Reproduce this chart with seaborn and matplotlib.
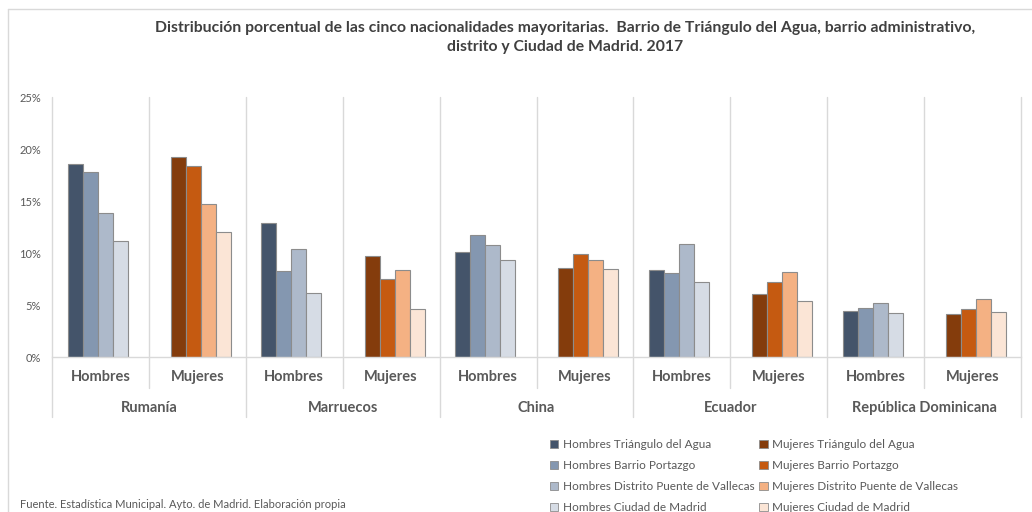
import pandas as pd
import matplotlib.pyplot as plt
import seaborn as sns
from matplotlib.patches import Patch
from matplotlib.lines import Line2D
from matplotlib.ticker import PercentFormatter
import matplotlib.transforms as mtransforms

# --- data (percent) ---
paises = ['Rumanía', 'Marruecos', 'China', 'Ecuador', 'República Dominicana']
ambitos = ['Triángulo del Agua', 'Barrio Portazgo', 'Distrito Puente de Vallecas', 'Ciudad de Madrid']

hombres_triangulo = [18.6, 12.9, 10.1, 8.4, 4.4]
hombres_portazgo = [17.8, 8.3, 11.7, 8.05, 4.7]
hombres_distrito = [13.8, 10.4, 10.75, 10.85, 5.2]
hombres_madrid = [11.2, 6.2, 9.35, 7.25, 4.25]

mujeres_triangulo = [19.2, 9.75, 8.6, 6.05, 4.1]
mujeres_portazgo = [18.4, 7.5, 9.9, 7.25, 4.6]
mujeres_distrito = [14.7, 8.35, 9.35, 8.2, 5.6]
mujeres_madrid = [12.0, 4.6, 8.5, 5.35, 4.35]

colores_h = ['#44546A', '#8497B0', '#ADB9CA', '#D6DCE5']
colores_m = ['#843C0C', '#C55A11', '#F4B183', '#FBE5D6']

# --- build long table ---
filas = []
series_h = [hombres_triangulo, hombres_portazgo, hombres_distrito, hombres_madrid]
series_m = [mujeres_triangulo, mujeres_portazgo, mujeres_distrito, mujeres_madrid]
for i, p in enumerate(paises):
    for amb, vals in zip(ambitos, series_h):
        filas.append({'slot': p + ' H', 'sexo': 'Hombres', 'ambito': amb, 'valor': vals[i] / 100})
    for amb, vals in zip(ambitos, series_m):
        filas.append({'slot': p + ' M', 'sexo': 'Mujeres', 'ambito': amb, 'valor': vals[i] / 100})
df = pd.DataFrame(filas)
orden = [p + s for p in paises for s in (' H', ' M')]

sns.set_style('white')
plt.rcParams['font.family'] = ['Lato', 'DejaVu Sans']
gris = '#595959'

fig = plt.figure(figsize=(10.32, 5.12), dpi=100)
ax = fig.add_axes([52 / 1032, 1 - 357 / 512, (1021 - 52) / 1032, 260 / 512])

sns.barplot(data=df[df.sexo == 'Hombres'], x='slot', y='valor', hue='ambito',
            order=orden, hue_order=ambitos, palette=colores_h, width=0.62, saturation=1,
            edgecolor='#8C8C8C', linewidth=0.8, legend=False, ax=ax)
n_h = len(ax.patches)
# small offset like the original (hombres a bit left)
for b in ax.patches:
    b.set_x(b.get_x() - 0.03)
sns.barplot(data=df[df.sexo == 'Mujeres'], x='slot', y='valor', hue='ambito',
            order=orden, hue_order=ambitos, palette=colores_m, width=0.62, saturation=1,
            edgecolor='#8C8C8C', linewidth=0.8, legend=False, ax=ax)
for b in ax.patches[n_h:]:
    b.set_x(b.get_x() + 0.035)

ax.set_xlim(-0.5, len(orden) - 0.5)
ax.set_ylim(0, 0.25)
ax.yaxis.set_major_formatter(PercentFormatter(1.0, decimals=0))
ax.set_yticks([0, 0.05, 0.10, 0.15, 0.20, 0.25])
ax.tick_params(axis='y', length=0, pad=8, labelsize=8, labelcolor=gris)
ax.set_xticks([])
ax.set_xlabel('')
ax.set_ylabel('')
for s in ['top', 'right', 'left']:
    ax.spines[s].set_visible(False)
ax.spines['bottom'].set_color('#D9D9D9')
ax.spines['bottom'].set_linewidth(1)

# category separators and two-level labels
trans = mtransforms.blended_transform_factory(ax.transData, ax.transAxes)
for k in range(len(orden) + 1):
    y0 = -0.231 if k % 2 == 0 else -0.119
    ax.add_line(Line2D([k - 0.5, k - 0.5], [1, y0], transform=trans, color='#D9D9D9',
                       lw=1, clip_on=False, zorder=0))
for k, slot in enumerate(orden):
    ax.text(k, -0.077, 'Hombres' if slot.endswith('H') else 'Mujeres', transform=trans,
            ha='center', va='center', fontsize=10.5, fontweight='bold', color=gris)
for i, p in enumerate(paises):
    ax.text(2 * i + 0.5, -0.196, p, transform=trans, ha='center', va='center',
            fontsize=10.5, fontweight='bold', color=gris)

# title
fig.text(565 / 1032, 1 - 28 / 512,
         'Distribución porcentual de las cinco nacionalidades mayoritarias.  Barrio de Triángulo del Agua, barrio administrativo,',
         ha='center', va='center', fontsize=11.3, fontweight='bold', color='#404040')
fig.text(565 / 1032, 1 - 47 / 512, 'distrito y Ciudad de Madrid. 2017',
         ha='center', va='center', fontsize=11.3, fontweight='bold', color='#404040')

# legend (column-major: hombres first column, mujeres second)
handles = [Patch(facecolor=c, edgecolor='#8C8C8C', lw=0.6) for c in colores_h + colores_m]
labels = ['Hombres ' + a for a in ambitos] + ['Mujeres ' + a for a in ambitos]
fig.legend(handles, labels, ncol=2, loc='upper left', bbox_to_anchor=(544 / 1032, 1 - 433 / 512),
           frameon=False, fontsize=8.5, labelcolor=gris, handlelength=0.7, handleheight=0.7,
           handletextpad=0.4, labelspacing=0.85, columnspacing=0.4, borderpad=0)

# source note and chart frame
fig.text(20 / 1032, 1 - 504 / 512, 'Fuente. Estadística Municipal. Ayto. de Madrid. Elaboración propia',
         ha='left', va='center', fontsize=8, color=gris)
fig.add_artist(Line2D([8 / 1032, 8 / 1032], [0, 1 - 9 / 512], transform=fig.transFigure,
                      color='#D9D9D9', lw=1))
fig.add_artist(Line2D([8 / 1032, 1], [1 - 9 / 512, 1 - 9 / 512], transform=fig.transFigure,
                      color='#D9D9D9', lw=1))

fig.savefig('out.png', dpi=100)
